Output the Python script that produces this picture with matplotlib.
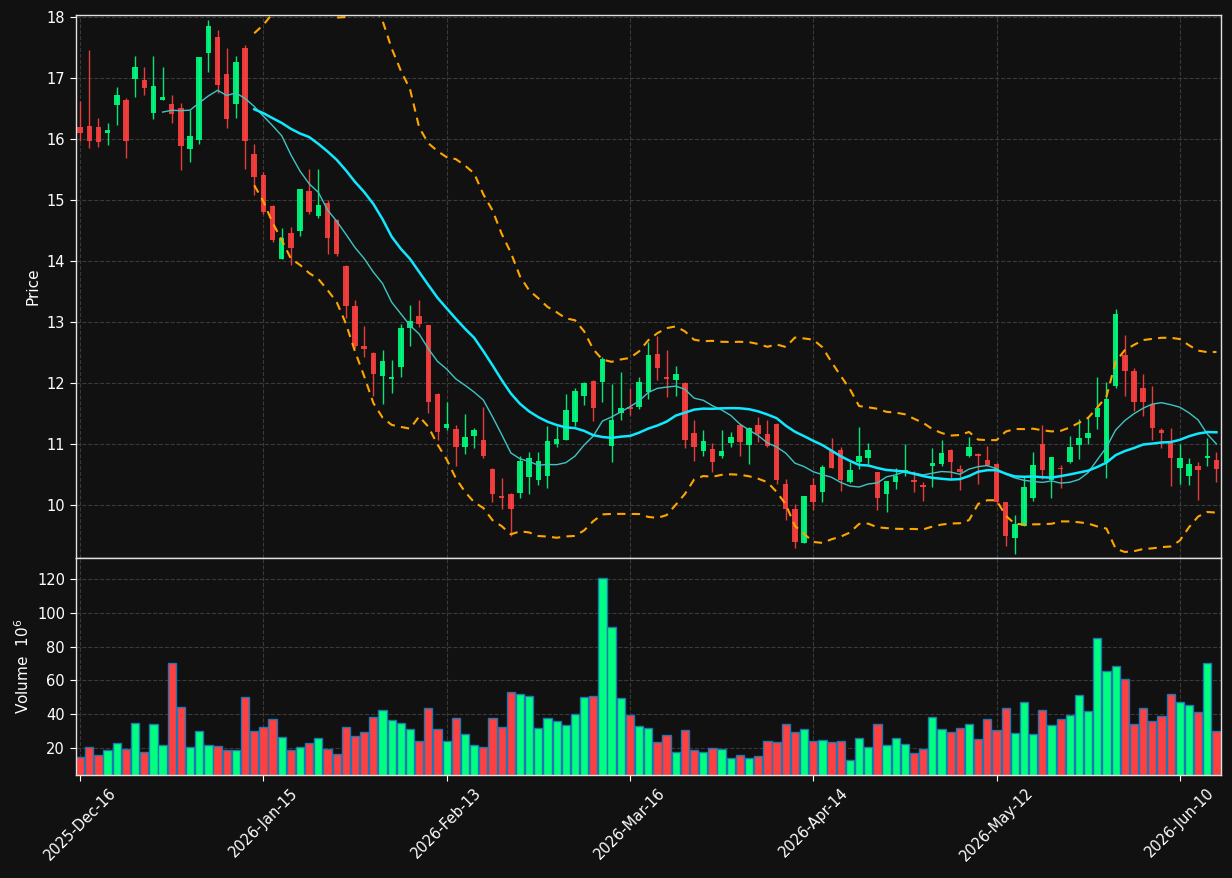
import matplotlib
matplotlib.use("Agg")
import matplotlib.pyplot as plt
import numpy as np
import pandas as pd

# OHLC (price) per trading day, index 0 = 2025-12-16
opens = [16.19, 16.21, 16.19, 16.09, 16.55, 16.64, 16.97, 16.96, 16.42, 16.64,
         16.56, 16.51, 15.83, 15.98, 17.40, 17.66, 17.06, 16.57, 17.48, 15.75,
         15.40, 14.89, 14.03, 14.46, 14.49, 15.15, 14.73, 14.94, 14.66, 13.92,
         13.25, 12.61, 12.49, 12.11, 12.07, 12.26, 12.90, 13.10, 12.94, 11.82,
         11.26, 11.25, 10.94, 11.12, 11.07, 10.59, 10.14, 10.18, 10.20, 10.45,
         10.41, 10.47, 11.00, 11.07, 11.36, 11.78, 12.03, 12.01, 10.96, 11.51,
         11.60, 11.61, 11.85, 12.47, 12.10, 12.05, 12.00, 11.18, 10.89, 10.92,
         10.80, 11.01, 11.30, 10.98, 11.30, 11.16, 11.33, 10.34, 9.94, 9.38,
         10.32, 10.21, 10.88, 10.90, 10.38, 10.70, 10.77, 10.53, 10.17, 10.38,
         10.56, 10.41, 10.33, 10.63, 10.67, 10.90, 10.58, 10.80, 10.84, 10.73,
         10.67, 10.04, 9.45, 9.66, 10.12, 10.99, 10.41, 10.61, 10.71, 10.98,
         11.09, 11.44, 10.70, 11.95, 12.46, 12.20, 11.92, 11.65, 11.22, 11.02,
         10.60, 10.47, 10.64, 10.77, 10.74]
highs = [16.61, 17.46, 16.34, 16.25, 16.84, 16.66, 17.35, 17.18, 17.36, 17.18,
         16.72, 16.58, 16.47, 17.34, 17.94, 17.78, 17.48, 17.36, 17.53, 15.92,
         15.46, 14.92, 14.54, 14.55, 15.17, 15.50, 15.50, 14.99, 14.68, 13.93,
         13.35, 12.93, 12.50, 12.54, 12.38, 12.96, 13.28, 13.35, 12.95, 11.84,
         11.69, 11.30, 11.49, 11.26, 11.60, 10.60, 10.44, 10.19, 10.80, 10.86,
         10.87, 11.29, 11.29, 11.82, 11.91, 12.01, 12.05, 12.43, 11.98, 12.18,
         11.91, 12.10, 12.67, 12.77, 12.53, 12.27, 12.01, 11.39, 11.22, 11.02,
         11.22, 11.19, 11.31, 11.27, 11.44, 11.39, 11.34, 10.42, 10.01, 10.14,
         10.44, 10.65, 11.09, 10.94, 10.70, 11.27, 11.02, 10.54, 10.39, 10.61,
         11.00, 10.56, 10.38, 10.93, 11.06, 10.91, 10.65, 11.11, 10.85, 10.96,
         10.69, 10.05, 9.84, 10.47, 10.86, 11.30, 10.79, 10.65, 11.13, 11.40,
         11.46, 12.10, 12.02, 13.21, 12.78, 12.24, 12.15, 11.95, 11.26, 11.26,
         11.00, 10.76, 10.70, 11.10, 10.86]
lows = [15.96, 15.85, 15.87, 15.90, 16.22, 15.69, 16.68, 16.72, 16.33, 16.63,
        16.26, 15.49, 15.62, 15.92, 17.10, 16.74, 16.18, 16.34, 15.50, 15.07,
        14.76, 14.31, 14.02, 13.93, 14.41, 14.77, 14.70, 14.11, 14.08, 13.06,
        12.57, 12.43, 11.79, 11.65, 11.83, 12.10, 12.61, 12.91, 11.51, 11.07,
        11.23, 10.64, 10.83, 10.93, 10.77, 10.04, 9.94, 9.49, 10.11, 10.17,
        10.33, 10.27, 10.94, 11.06, 11.29, 11.64, 11.38, 11.68, 10.71, 11.39,
        11.48, 11.57, 11.74, 12.05, 11.76, 11.79, 10.93, 10.72, 10.80, 10.54,
        10.76, 10.94, 10.80, 10.67, 11.03, 10.94, 10.34, 9.75, 9.29, 9.37,
        9.92, 10.05, 10.60, 10.23, 10.35, 10.58, 10.67, 9.92, 9.89, 10.26,
        10.47, 10.21, 10.07, 10.30, 10.64, 10.44, 10.25, 10.79, 10.34, 10.64,
        10.02, 9.32, 9.20, 9.65, 10.07, 10.42, 10.11, 10.27, 10.69, 10.75,
        11.00, 11.25, 10.44, 11.92, 11.79, 11.53, 11.45, 11.07, 10.93, 10.31,
        10.34, 10.33, 10.08, 10.64, 10.38]
closes = [16.09, 15.96, 15.95, 16.14, 16.71, 15.96, 17.17, 16.83, 16.86, 16.68,
          16.40, 15.88, 16.04, 17.33, 17.85, 16.88, 16.32, 17.25, 15.96, 15.37,
          14.80, 14.34, 14.38, 14.21, 15.17, 14.80, 14.92, 14.37, 14.11, 13.25,
          12.60, 12.55, 12.15, 12.35, 12.10, 12.90, 13.02, 12.96, 11.69, 11.19,
          11.33, 10.94, 11.11, 11.23, 10.80, 10.17, 10.11, 9.94, 10.72, 10.76,
          10.72, 11.05, 11.08, 11.56, 11.87, 11.99, 11.59, 12.39, 11.39, 11.59,
          11.57, 12.01, 12.45, 12.24, 12.07, 12.15, 11.07, 10.94, 11.04, 10.70,
          10.88, 11.11, 11.03, 11.26, 11.16, 10.96, 10.40, 9.94, 9.39, 10.14,
          10.04, 10.62, 10.61, 10.41, 10.57, 10.80, 10.90, 10.11, 10.39, 10.47,
          10.57, 10.38, 10.30, 10.69, 10.85, 10.71, 10.54, 10.95, 10.80, 10.65,
          10.04, 9.49, 9.69, 10.30, 10.65, 10.57, 10.78, 10.59, 10.94, 11.10,
          11.18, 11.59, 11.74, 13.12, 12.20, 11.69, 11.69, 11.26, 11.17, 10.77,
          10.77, 10.67, 10.57, 10.80, 10.58]

# volume in millions
volumes = [14.7, 20.6, 15.5, 18.8, 23.0, 19.4, 34.8, 17.6, 34.2, 21.8,
           70.3, 44.3, 20.6, 30.1, 21.8, 21.2, 18.8, 18.8, 50.2, 30.1,
           32.4, 36.8, 26.5, 18.8, 20.6, 23.0, 25.9, 19.4, 16.4, 32.4,
           27.3, 29.5, 38.3, 42.5, 36.6, 34.8, 31.2, 24.1, 43.7, 31.2,
           24.1, 37.8, 28.3, 21.8, 20.6, 37.8, 32.4, 53.1, 52.0, 50.8,
           31.8, 37.8, 36.0, 33.6, 40.1, 50.2, 50.8, 120.6, 91.6, 49.5,
           39.5, 33.0, 31.8, 23.6, 27.7, 17.6, 30.7, 18.8, 17.6, 20.0,
           19.4, 14.1, 15.9, 14.1, 15.3, 24.1, 23.6, 34.2, 29.5, 31.2,
           24.1, 24.7, 23.6, 24.1, 12.9, 25.9, 20.6, 34.2, 21.8, 25.9,
           22.4, 17.0, 19.4, 38.3, 31.2, 29.5, 31.8, 34.2, 25.3, 37.2,
           30.7, 43.7, 28.9, 47.3, 28.3, 42.5, 33.6, 37.2, 39.5, 51.4,
           41.9, 85.1, 65.6, 68.5, 60.8, 34.2, 43.7, 36.0, 38.9, 52.0,
           47.3, 45.4, 41.3, 70.3, 30.1]

tick_labels = ["2025-Dec-16", "2026-Jan-15", "2026-Feb-13", "2026-Mar-16",
               "2026-Apr-14", "2026-May-12", "2026-Jun-10"]

BG = "#111111"
UP = "#00ff80"
DOWN = "#ff4040"
GRID = "#3a3a3a"


def style_axes(ax):
    ax.set_facecolor(BG)
    for s in ax.spines.values():
        s.set_color("#e0e0e0")
        s.set_linewidth(1.0)
    ax.tick_params(colors="white", labelsize=10.5, length=4)
    ax.grid(True, color=GRID, linestyle="--", linewidth=0.8)
    ax.set_axisbelow(True)


def main():
    df = pd.DataFrame({"Open": opens, "High": highs, "Low": lows,
                       "Close": closes, "Volume": volumes})
    n = len(df)
    x = np.arange(n)
    up = df["Close"] >= df["Open"]
    colors = np.where(up, UP, DOWN)

    ma10 = df["Close"].rolling(10).mean()
    ma20 = df["Close"].rolling(20).mean()
    sd20 = df["Close"].rolling(20).std()
    bb_up = ma20 + 2 * sd20
    bb_lo = ma20 - 2 * sd20

    fig = plt.figure(figsize=(12.32, 8.781), dpi=100, facecolor=BG)
    ax = fig.add_axes([0.0613, 0.3645, 0.9298, 0.6184])
    axv = fig.add_axes([0.0613, 0.1173, 0.9298, 0.2472], sharex=ax)
    style_axes(ax)
    style_axes(axv)

    # candles
    ax.vlines(x, df["Low"], df["High"], colors=colors, linewidth=1.0, alpha=0.9)
    ax.bar(x, df["Close"] - df["Open"], bottom=df["Open"], width=0.6,
           color=colors, alpha=0.9, linewidth=0)

    ax.plot(x, ma10, color="#3fc4c4", linewidth=1.0)
    ax.plot(x, ma20, color="#10e8ff", linewidth=1.8)
    ax.plot(x, bb_up, color="orange", linewidth=1.5, dashes=(4, 3))
    ax.plot(x, bb_lo, color="orange", linewidth=1.5, dashes=(4, 3))

    rng = df["High"].max() - df["Low"].min()
    ax.set_ylim(df["Low"].min() - 0.008 * rng, df["High"].max() + 0.01 * rng)
    ax.set_xlim(-0.5, n - 0.5)
    ax.set_ylabel("Price", color="white", fontsize=11)
    plt.setp(ax.get_xticklabels(), visible=False)

    # volume
    axv.bar(x, df["Volume"], width=0.9, color=colors, edgecolor="#1f77b4",
            linewidth=1.0)
    axv.set_ylim(0.3 * df["Volume"].min(), 1.1 * df["Volume"].max())
    axv.set_yticks([20, 40, 60, 80, 100, 120])
    axv.set_ylabel("Volume  $10^{6}$", color="white", fontsize=11)

    ticks = list(range(0, n, 20))
    axv.set_xticks(ticks)
    axv.set_xticklabels(tick_labels, rotation=45)

    fig.savefig("out.png", dpi=100, facecolor=BG)


if __name__ == "__main__":
    main()
